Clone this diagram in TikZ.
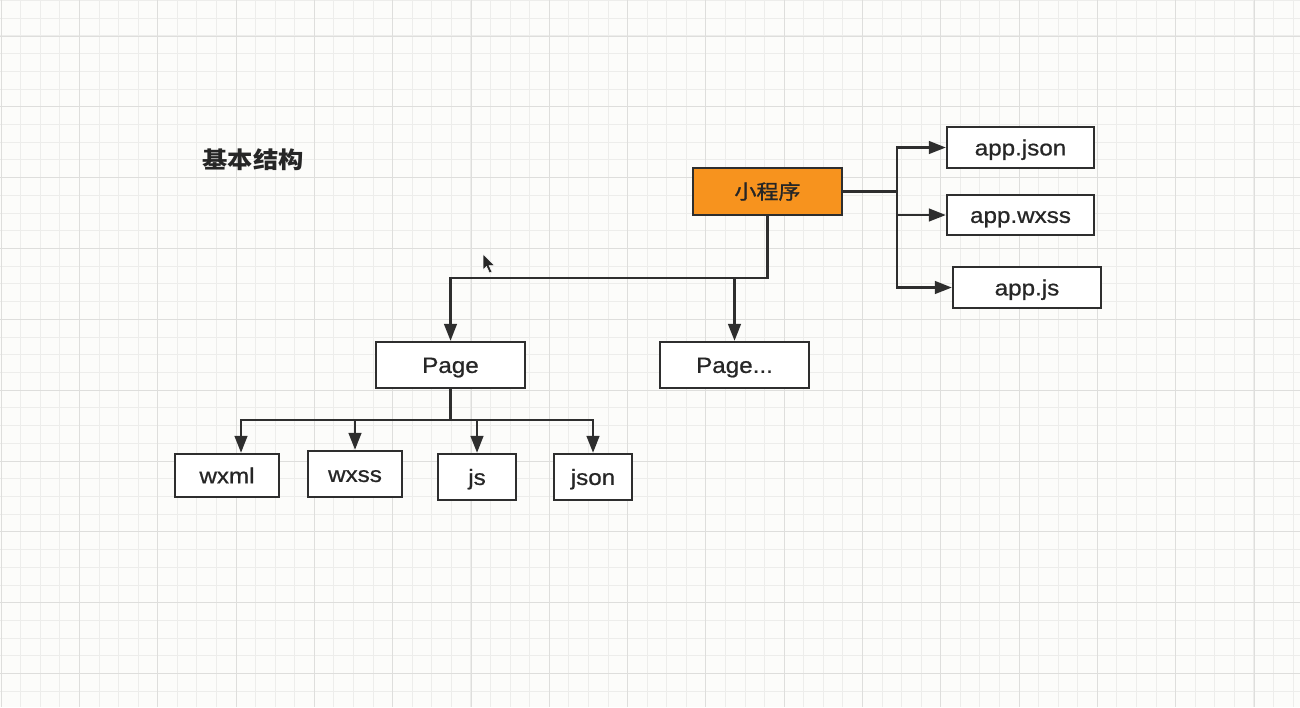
\documentclass[tikz,border=0pt]{standalone}
\usepackage{fontspec}
\setmainfont{Liberation Sans}[FakeStretch=1.1,FakeBold=0.8]
\newfontfamily\cjk{Noto Sans CJK SC}[FakeStretch=1.1]
\newfontfamily\cjkbox{Noto Sans CJK SC}[FakeStretch=1.1,FakeBold=1.2]
\usetikzlibrary{arrows.meta,calc}
\definecolor{bg}{HTML}{FCFCFA}
\definecolor{gminor}{HTML}{EDEDEB}
\definecolor{gmajor}{HTML}{DEDEDC}
\definecolor{ink}{HTML}{2E2E2E}
\definecolor{txt}{HTML}{262626}
\definecolor{orangebox}{HTML}{F7931E}
\tikzset{
  minorline/.style={gminor, line width=1pt},
  majorline/.style={gmajor, line width=1.5pt},
  filebox/.style={draw=ink, line width=2.2pt, fill=white, inner sep=0pt,
    text=txt, font=\fontsize{22}{26}\selectfont, text height=15.8pt, text depth=0pt},
  rootbox/.style={filebox, fill=orangebox, font=\cjkbox\fontsize{20}{24}\selectfont,
    text height=17.4pt, text depth=2.4pt},
  conn/.style={ink, line width=2.8pt},
  arr/.style={conn, -{Triangle[length=17pt,width=12.5pt]}},
}
\begin{document}
\begin{tikzpicture}[x={(1pt,0)}, y={(0,-1pt)}]
\useasboundingbox (0,0) rectangle (1300,707);
\fill[bg] (0,0) rectangle (1300,707);
% grid
\foreach \i in {0,...,66} {
  \pgfmathsetmacro\xx{round(0.7+19.575*\i)+0.5}
  \draw[minorline] (\xx,0) -- (\xx,707);
}
\foreach \i in {0,...,39} {
  \pgfmathsetmacro\yy{round(0.075+17.7125*\i)+0.5}
  \draw[minorline] (0,\yy) -- (1300,\yy);
}
\foreach \i in {0,...,16} {
  \pgfmathsetmacro\xx{round(0.7+78.3*\i)+0.5}
  \draw[majorline] (\xx,0) -- (\xx,707);
}
\foreach \i in {0,...,9} {
  \pgfmathsetmacro\yy{round(35.5+70.85*\i)+0.5}
  \draw[majorline] (0,\yy) -- (1300,\yy);
}
% title
\node[text=txt, font=\cjk\bfseries\fontsize{23}{26}\selectfont] (title) at (253,160) {基本结构};
% boxes
\node[rootbox, minimum width=149pt, minimum height=47pt] (root) at (767.5,191.5) {小程序};
\node[filebox, minimum width=147pt, minimum height=41pt] (aj) at (1020.5,147.5) {app.json};
\node[filebox, minimum width=147pt, minimum height=40pt] (aw) at (1020.5,215) {app.wxss};
\node[filebox, minimum width=148pt, minimum height=41pt] (ajs) at (1027,287.5) {app.js};
\node[filebox, minimum width=149pt, minimum height=46pt] (page) at (450.5,365) {Page};
\node[filebox, minimum width=149pt, minimum height=46pt] (page2) at (734.5,365) {Page...};
\node[filebox, minimum width=104pt, minimum height=43pt] (wxml) at (227,475.5) {wxml};
\node[filebox, minimum width=94pt, minimum height=46pt] (wxss) at (355,474) {wxss};
\node[filebox, minimum width=78pt, minimum height=46pt] (js) at (477,477) {js};
\node[filebox, minimum width=78pt, minimum height=46pt] (json) at (593,477) {json};
% connectors: root to app files
\coordinate (t1) at (897,191.5);
\draw[conn] (root.east) -- (t1);
\draw[arr] (t1) |- (aj.west);
\draw[arr] (t1) |- (aw.west);
\draw[arr] (t1) |- (ajs.west);
% root to pages
\coordinate (h1) at (768,278);
\draw[arr] (root.south) -- (root.south |- h1) -| (page.north);
\draw[arr] (page2.north |- h1) -- (page2.north);
% page to files
\coordinate (b1) at (450.5,420);
\coordinate (wx) at (241,0);
\draw[conn] (page.south) -- (b1);
\draw[arr] (b1) -| (wx |- wxml.north);
\draw[arr] (b1) -| (wxss.north);
\draw[arr] (b1) -| (js.north);
\draw[arr] (b1) -| (json.north);
% mouse cursor
\fill[black!85, draw=white, line width=0.5pt] (483,254) -- (483,270) -- (486.5,266.5) -- (489.5,273) -- (492,272) -- (489,265.5) -- (494.5,265.5) -- cycle;
\end{tikzpicture}
\end{document}
